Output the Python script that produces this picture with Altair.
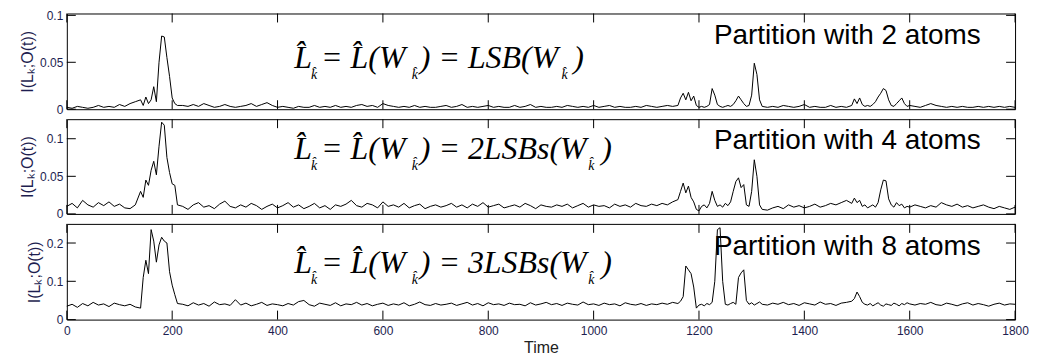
import altair as alt
import pandas as pd

# ---------------- data ----------------
TIME = (list(range(0, 140, 10)) + list(range(140, 215, 5)) + list(range(220, 1160, 10))
        + list(range(1160, 1325, 5)) + list(range(1330, 1490, 10))
        + list(range(1490, 1605, 5)) + list(range(1610, 1810, 10)))

P1 = [
    # 0..130
    0.002, 0.001, 0.003, 0.002, 0.001, 0.002, 0.004, 0.002, 0.003, 0.002, 0.005, 0.003, 0.006, 0.008,
    # 140..210 step 5
    0.010, 0.004, 0.013, 0.006, 0.010, 0.024, 0.008, 0.050, 0.078, 0.077, 0.055, 0.035, 0.012, 0.006, 0.004,
    # 220..1150
    0.004, 0.003, 0.005, 0.003, 0.006, 0.004, 0.002, 0.003, 0.005, 0.003,
    0.002, 0.003, 0.004, 0.006, 0.003, 0.005, 0.007, 0.004, 0.002, 0.003,
    0.002, 0.001, 0.003, 0.002, 0.002, 0.004, 0.002, 0.003, 0.002, 0.004,
    0.002, 0.003, 0.002, 0.004, 0.005, 0.003, 0.004, 0.002, 0.006, 0.004,
    0.003, 0.002, 0.003, 0.002, 0.004, 0.002, 0.003, 0.002, 0.002, 0.003,
    0.004, 0.002, 0.003, 0.005, 0.002, 0.003, 0.002, 0.003, 0.004, 0.002,
    0.003, 0.002, 0.002, 0.004, 0.002, 0.003, 0.005, 0.002, 0.003, 0.002,
    0.002, 0.003, 0.002, 0.004, 0.003, 0.002, 0.003, 0.002, 0.004, 0.002,
    0.003, 0.004, 0.002, 0.003, 0.002, 0.002, 0.003, 0.002, 0.004, 0.003,
    0.002, 0.003, 0.004, 0.003,
    # 1160..1320 step 5
    0.004, 0.012, 0.017, 0.010, 0.018, 0.009, 0.014, 0.004, 0.002, 0.003, 0.002, 0.003, 0.005, 0.022,
    0.015, 0.005, 0.003, 0.002, 0.003, 0.004, 0.003, 0.005, 0.009, 0.014, 0.010, 0.006, 0.003, 0.004,
    0.015, 0.049, 0.037, 0.010, 0.003,
    # 1330..1480
    0.002, 0.003, 0.002, 0.004, 0.003, 0.002, 0.003, 0.005, 0.002, 0.003, 0.002, 0.002, 0.004, 0.002,
    0.003, 0.002,
    # 1490..1600 step 5
    0.004, 0.011, 0.006, 0.012, 0.005, 0.003, 0.004, 0.003, 0.005, 0.008, 0.013, 0.017, 0.022, 0.020,
    0.010, 0.004, 0.003, 0.006, 0.009, 0.012, 0.006, 0.003, 0.004,
    # 1610..1800
    0.003, 0.002, 0.004, 0.006, 0.004, 0.003, 0.002, 0.003, 0.002, 0.003, 0.002, 0.002, 0.003, 0.002,
    0.003, 0.002, 0.003, 0.002, 0.003, 0.002,
]

P2 = [
    0.010, 0.014, 0.008, 0.018, 0.012, 0.009, 0.015, 0.011, 0.016, 0.010, 0.013, 0.008, 0.007, 0.012,
    0.030, 0.022, 0.045, 0.038, 0.058, 0.070, 0.052, 0.090, 0.122, 0.118, 0.075, 0.055, 0.040, 0.038, 0.012,
    0.010, 0.006, 0.012, 0.015, 0.009, 0.011, 0.007, 0.013, 0.017, 0.010,
    0.008, 0.012, 0.009, 0.014, 0.011, 0.006, 0.010, 0.013, 0.008, 0.011,
    0.015, 0.009, 0.012, 0.007, 0.010, 0.014, 0.008, 0.011, 0.006, 0.012,
    0.010, 0.013, 0.018, 0.011, 0.009, 0.014, 0.012, 0.008, 0.016, 0.010,
    0.012, 0.009, 0.014, 0.008, 0.011, 0.013, 0.007, 0.010, 0.012, 0.009,
    0.011, 0.014, 0.009, 0.012, 0.008, 0.013, 0.010, 0.015, 0.009, 0.011,
    0.013, 0.008, 0.010, 0.012, 0.009, 0.014, 0.011, 0.007, 0.012, 0.010,
    0.009, 0.012, 0.010, 0.013, 0.008, 0.011, 0.014, 0.009, 0.012, 0.010,
    0.011, 0.008, 0.013, 0.010, 0.012, 0.009, 0.014, 0.011, 0.010, 0.013,
    0.011, 0.014, 0.012, 0.016,
    0.019, 0.030, 0.041, 0.028, 0.037, 0.022, 0.016, 0.006, 0.004, 0.010, 0.012, 0.008, 0.014, 0.030,
    0.018, 0.010, 0.012, 0.009, 0.014, 0.011, 0.016, 0.030, 0.043, 0.048, 0.035, 0.039, 0.012, 0.010,
    0.030, 0.072, 0.050, 0.012, 0.006,
    0.005, 0.008, 0.010, 0.007, 0.012, 0.009, 0.011, 0.008, 0.010, 0.013, 0.009, 0.011, 0.014, 0.012,
    0.015, 0.018,
    0.014, 0.021, 0.015, 0.018, 0.010, 0.012, 0.008, 0.010, 0.012, 0.009, 0.015, 0.032, 0.045, 0.044,
    0.020, 0.012, 0.009, 0.015, 0.011, 0.013, 0.008, 0.010, 0.009,
    0.012, 0.010, 0.008, 0.011, 0.009, 0.015, 0.012, 0.010, 0.013, 0.009, 0.011, 0.008, 0.010, 0.012,
    0.009, 0.007, 0.010, 0.008, 0.006, 0.009,
]

P3 = [
    0.035, 0.040, 0.032, 0.042, 0.036, 0.045, 0.038, 0.041, 0.034, 0.043, 0.039, 0.036, 0.040, 0.033,
    0.030, 0.110, 0.155, 0.120, 0.235, 0.205, 0.150, 0.195, 0.215, 0.205, 0.200, 0.125, 0.090, 0.065, 0.042,
    0.040, 0.036, 0.044, 0.038, 0.042, 0.035, 0.046, 0.039, 0.041, 0.037,
    0.052, 0.038, 0.043, 0.036, 0.040, 0.045, 0.037, 0.041, 0.039, 0.036,
    0.042, 0.038, 0.047, 0.050, 0.039, 0.035, 0.043, 0.040, 0.037, 0.044,
    0.036, 0.041, 0.039, 0.045, 0.038, 0.042, 0.036, 0.040, 0.043, 0.037,
    0.041, 0.038, 0.044, 0.036, 0.040, 0.046, 0.039, 0.037, 0.042, 0.038,
    0.040, 0.043, 0.037, 0.041, 0.045, 0.038, 0.042, 0.036, 0.044, 0.039,
    0.041, 0.037, 0.043, 0.039, 0.040, 0.036, 0.044, 0.038, 0.041, 0.045,
    0.039, 0.042, 0.037, 0.043, 0.040, 0.038, 0.046, 0.039, 0.041, 0.037,
    0.043, 0.039, 0.041, 0.036, 0.044, 0.040, 0.038, 0.042, 0.037, 0.041,
    0.039, 0.043, 0.040, 0.045,
    0.042, 0.048, 0.060, 0.140, 0.130, 0.120, 0.085, 0.030, 0.038, 0.040, 0.036, 0.042, 0.039, 0.045,
    0.100, 0.235, 0.240, 0.100, 0.040, 0.038, 0.042, 0.045, 0.040, 0.110, 0.122, 0.130, 0.050, 0.040,
    0.044, 0.038, 0.042, 0.046, 0.040,
    0.038, 0.043, 0.040, 0.045, 0.039, 0.042, 0.037, 0.044, 0.041, 0.038, 0.046, 0.040, 0.042, 0.037,
    0.043, 0.045,
    0.048, 0.055, 0.072, 0.060, 0.045, 0.040, 0.038, 0.042, 0.036, 0.040, 0.044, 0.038, 0.035, 0.041,
    0.039, 0.037, 0.043, 0.040, 0.036, 0.042, 0.039, 0.044, 0.041,
    0.038, 0.042, 0.040, 0.045, 0.039, 0.037, 0.043, 0.040, 0.036, 0.041, 0.044, 0.038, 0.042, 0.039,
    0.035, 0.040, 0.043, 0.038, 0.041, 0.040,
]

X_TICKS = [0, 200, 400, 600, 800, 1000, 1200, 1400, 1600, 1800]
Y_TICKS = [[0, 0.05, 0.1], [0, 0.05, 0.1], [0, 0.1, 0.2]]
Y_MAX = [0.102, 0.126, 0.25]
LABELS = ["Partition with 2 atoms", "Partition with 4 atoms", "Partition with 8 atoms"]
TAILS = [") = LSB(W", ") = 2LSBs(W", ") = 3LSBs(W"]
Y_TITLE = "I(L\u2096;O(t))"

assert len(TIME) == len(P1) == len(P2) == len(P3)

# ---------------- styling ----------------
W = 951
HEIGHTS = [96, 95, 96]
NAVY = "#1e1e50"
SANS = "Liberation Sans"
SERIF = "Liberation Serif"
TICK = 9
FS = 32


def txt(text, x, y, size, font, style="normal", color="black"):
    return alt.Chart(pd.DataFrame({"a": [0]})).mark_text(
        text=text, font=font, fontSize=size, fontStyle=style, color=color,
        align="left", baseline="alphabetic"
    ).encode(x=alt.value(x), y=alt.value(y))


def panel(i, vals, show_x):
    h = HEIGHTS[i]
    xscale = alt.Scale(domain=[0, 1800], nice=False, zero=False)
    yscale = alt.Scale(domain=[0, Y_MAX[i]], nice=False)
    if show_x:
        xaxis = alt.Axis(values=X_TICKS, format="d", title="Time", tickSize=0, domain=False,
                         grid=False, labelPadding=6, labelFont=SANS, labelFontSize=12,
                         labelColor=NAVY, titleFont=SANS, titleFontSize=16,
                         titleFontWeight="normal", titleColor="#222222", titlePadding=3,
                         labelFlush=False)
    else:
        xaxis = None
    yaxis = alt.Axis(values=Y_TICKS[i], format="~g", title=Y_TITLE, tickSize=0, domain=False,
                     grid=False, labelPadding=4, labelFont=SANS, labelFontSize=12,
                     labelColor=NAVY, titleFont=SANS, titleFontSize=16,
                     titleFontWeight="normal", titleColor=NAVY, titlePadding=4)
    df = pd.DataFrame({"t": TIME, "v": vals})
    line = alt.Chart(df).mark_line(color="black", strokeWidth=1).encode(
        x=alt.X("t:Q", scale=xscale, axis=xaxis),
        y=alt.Y("v:Q", scale=yscale, axis=yaxis),
    )
    xt = pd.DataFrame({"t": X_TICKS})
    yt = pd.DataFrame({"v": Y_TICKS[i]})
    top_t = alt.Chart(xt).mark_rule(color="black").encode(
        x=alt.X("t:Q", scale=xscale, axis=xaxis), y=alt.value(0), y2=alt.value(TICK))
    bot_t = alt.Chart(xt).mark_rule(color="black").encode(
        x=alt.X("t:Q", scale=xscale, axis=xaxis), y=alt.value(h), y2=alt.value(h - TICK))
    lft_t = alt.Chart(yt).mark_rule(color="black").encode(
        y=alt.Y("v:Q", scale=yscale, axis=yaxis), x=alt.value(0), x2=alt.value(TICK))
    rgt_t = alt.Chart(yt).mark_rule(color="black").encode(
        y=alt.Y("v:Q", scale=yscale, axis=yaxis), x=alt.value(W), x2=alt.value(W - TICK))

    fb = [55, 40, 49][i]
    pb = [31, 30, 31][i]
    close_x = [508, 536, 536][i]
    sub3_x = [496, 523, 523][i]
    layers = [line, top_t, bot_t, lft_t, rgt_t,
              txt("L\u0302", 228, fb, FS, SERIF, "italic"),
              txt("k\u0302", 245, fb + 11, 14, SERIF, "italic"),
              txt("= L\u0302(W", 255, fb, FS, SERIF, "italic"),
              txt("k\u0302", 346, fb + 11, 14, SERIF, "italic"),
              txt(TAILS[i], 354, fb, FS, SERIF, "italic"),
              txt("k\u0302", sub3_x, fb + 11, 14, SERIF, "italic"),
              txt(")", close_x, fb, FS, SERIF, "italic"),
              txt(LABELS[i], 649, pb, 28, SANS)]
    return alt.layer(*layers).properties(width=W, height=h)


chart = alt.vconcat(
    panel(0, P1, False), panel(1, P2, False), panel(2, P3, True), spacing=10, bounds="flush"
).configure_view(stroke="black", strokeWidth=1).properties(
    padding={"left": 11, "top": 0, "right": 5, "bottom": 0}, background="white"
)

chart.save("out.html", embed_options={"renderer": "svg", "actions": False})
